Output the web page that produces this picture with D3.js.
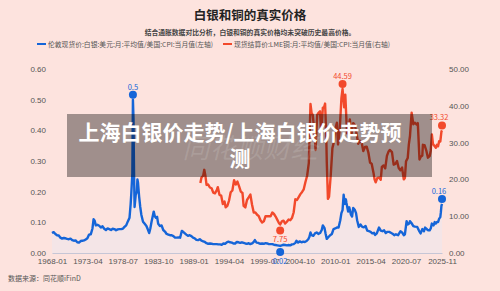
<!DOCTYPE html>
<html>
<head>
<meta charset="utf-8">
<script src="https://cdn.jsdelivr.net/npm/d3@7"></script>
<style>
  html, body { margin: 0; padding: 0; background: #fde3de; }
  svg { display: block; font-family: "Noto Sans CJK SC", "Noto Sans", sans-serif; }
</style>
</head>
<body>
<div id="chart"></div>
<script>
// 伦敦现货价:白银 / 美国CPI（左轴）
const silverSeries = [
  ["1968-01",0.065],["1968-04",0.068],["1968-07",0.062],["1968-10",0.058],
  ["1969-01",0.057],["1969-04",0.050],["1969-07",0.047],["1969-10",0.049],
  ["1970-01",0.048],["1970-04",0.046],["1970-07",0.045],["1970-10",0.047],
  ["1971-01",0.042],["1971-04",0.040],["1971-07",0.041],["1971-10",0.035],
  ["1972-01",0.034],["1972-04",0.039],["1972-07",0.040],["1972-10",0.041],
  ["1973-01",0.044],["1973-04",0.048],["1973-07",0.060],["1973-10",0.061],
  ["1974-01",0.080],["1974-03",0.110],["1974-05",0.105],["1974-07",0.090],["1974-10",0.092],
  ["1975-01",0.089],["1975-04",0.083],["1975-07",0.087],["1975-10",0.079],
  ["1976-01",0.075],["1976-04",0.080],["1976-07",0.078],["1976-10",0.075],
  ["1977-01",0.079],["1977-04",0.078],["1977-07",0.074],["1977-10",0.077],
  ["1978-01",0.078],["1978-04",0.078],["1978-07",0.079],["1978-10",0.085],
  ["1979-01",0.090],["1979-04",0.103],["1979-07",0.115],["1979-09",0.160],["1979-10",0.190],["1979-12",0.260],
  ["1980-01",0.500],["1980-02",0.440],["1980-03",0.260],["1980-04",0.150],["1980-06",0.190],
  ["1980-08",0.200],["1980-09",0.240],["1980-10",0.230],["1980-12",0.185],
  ["1981-02",0.150],["1981-04",0.125],["1981-07",0.102],["1981-10",0.095],
  ["1982-01",0.088],["1982-04",0.075],["1982-06",0.065],["1982-08",0.080],["1982-10",0.100],
  ["1983-02",0.135],["1983-04",0.120],["1983-06",0.115],["1983-08",0.118],["1983-10",0.095],
  ["1984-01",0.088],["1984-04",0.090],["1984-07",0.075],["1984-10",0.070],
  ["1985-01",0.062],["1985-04",0.060],["1985-07",0.058],["1985-10",0.058],
  ["1986-01",0.055],["1986-04",0.050],["1986-07",0.050],["1986-10",0.051],
  ["1987-01",0.050],["1987-04",0.072],["1987-06",0.070],["1987-09",0.065],["1987-12",0.060],
  ["1988-03",0.056],["1988-06",0.058],["1988-09",0.055],["1988-12",0.050],
  ["1989-03",0.048],["1989-06",0.043],["1989-09",0.042],["1989-12",0.045],
  ["1990-03",0.040],["1990-06",0.038],["1990-09",0.036],["1990-12",0.032],
  ["1991-03",0.030],["1991-06",0.031],["1991-09",0.030],["1991-12",0.029],
  ["1992-03",0.029],["1992-06",0.029],["1992-09",0.028],["1992-12",0.028],
  ["1993-03",0.027],["1993-06",0.031],["1993-09",0.030],["1993-12",0.035],
  ["1994-03",0.037],["1994-06",0.035],["1994-09",0.034],["1994-12",0.031],
  ["1995-03",0.031],["1995-06",0.036],["1995-09",0.035],["1995-12",0.033],
  ["1996-03",0.035],["1996-06",0.033],["1996-09",0.031],["1996-12",0.030],
  ["1997-03",0.032],["1997-06",0.029],["1997-09",0.031],["1997-12",0.036],
  ["1998-02",0.042],["1998-05",0.034],["1998-08",0.033],["1998-11",0.030],
  ["1999-03",0.031],["1999-06",0.030],["1999-09",0.032],["1999-12",0.031],
  ["2000-03",0.029],["2000-06",0.029],["2000-09",0.029],["2000-12",0.027],
  ["2001-03",0.026],["2001-06",0.025],["2001-09",0.024],["2001-11",0.023],
  ["2002-02",0.025],["2002-05",0.027],["2002-08",0.026],["2002-11",0.025],
  ["2003-02",0.026],["2003-05",0.025],["2003-08",0.028],["2003-11",0.029],
  ["2004-02",0.033],["2004-04",0.040],["2004-07",0.034],["2004-10",0.038],
  ["2005-01",0.035],["2005-04",0.037],["2005-07",0.036],["2005-10",0.039],
  ["2006-01",0.045],["2006-03",0.052],["2006-05",0.067],["2006-07",0.058],["2006-10",0.056],
  ["2007-01",0.064],["2007-04",0.067],["2007-07",0.062],["2007-10",0.065],
  ["2008-01",0.075],["2008-03",0.090],["2008-06",0.081],["2008-08",0.062],["2008-10",0.046],
  ["2009-01",0.052],["2009-04",0.058],["2009-07",0.062],["2009-10",0.078],
  ["2010-01",0.080],["2010-04",0.083],["2010-07",0.083],["2010-10",0.107],["2010-12",0.130],
  ["2011-02",0.140],["2011-04",0.190],["2011-06",0.160],["2011-08",0.175],["2011-09",0.163],["2011-12",0.135],
  ["2012-02",0.149],["2012-05",0.125],["2012-07",0.119],["2012-09",0.147],["2012-12",0.140],
  ["2013-02",0.130],["2013-04",0.107],["2013-07",0.085],["2013-10",0.093],
  ["2014-01",0.085],["2014-04",0.084],["2014-07",0.088],["2014-10",0.073],
  ["2015-01",0.071],["2015-04",0.069],["2015-07",0.064],["2015-10",0.066],["2015-12",0.059],
  ["2016-03",0.064],["2016-07",0.083],["2016-10",0.073],
  ["2017-01",0.071],["2017-04",0.074],["2017-07",0.065],["2017-10",0.069],
  ["2018-01",0.069],["2018-04",0.066],["2018-07",0.063],["2018-10",0.058],
  ["2019-01",0.061],["2019-05",0.058],["2019-09",0.071],["2019-12",0.067],
  ["2020-03",0.058],["2020-05",0.061],["2020-08",0.104],["2020-10",0.093],
  ["2021-01",0.097],["2021-02",0.104],["2021-05",0.097],["2021-08",0.088],["2021-11",0.086],
  ["2022-03",0.085],["2022-06",0.073],["2022-09",0.064],["2022-12",0.078],
  ["2023-03",0.071],["2023-05",0.083],["2023-08",0.078],["2023-10",0.074],
  ["2024-01",0.074],["2024-03",0.080],["2024-05",0.096],["2024-08",0.090],["2024-10",0.101],["2024-12",0.096],
  ["2025-02",0.101],["2025-04",0.101],["2025-06",0.112],["2025-08",0.117],["2025-09",0.133],["2025-10",0.154],["2025-11",0.160]
];

// 现货结算价:LME铜 / 美国CPI（右轴）
const copperSeries = [
  ["1990-01",19.0],["1990-03",20.5],["1990-06",21.0],["1990-08",22.6],["1990-10",21.0],["1990-12",18.5],
  ["1991-03",18.6],["1991-06",17.8],["1991-09",17.6],["1991-12",16.4],
  ["1992-03",16.2],["1992-06",17.0],["1992-08",17.9],["1992-11",15.8],
  ["1993-02",15.6],["1993-05",13.3],["1993-08",14.0],["1993-10",12.4],
  ["1994-01",12.8],["1994-04",14.2],["1994-07",16.5],["1994-10",17.0],
  ["1995-01",19.8],["1995-04",18.6],["1995-07",19.4],["1995-10",18.1],
  ["1996-01",16.7],["1996-04",16.3],["1996-06",12.8],["1996-09",12.4],["1996-12",14.4],
  ["1997-03",15.1],["1997-06",15.9],["1997-09",13.1],["1997-12",11.0],
  ["1998-03",11.0],["1998-06",10.4],["1998-09",10.0],["1998-12",8.9],
  ["1999-03",8.3],["1999-06",8.6],["1999-09",10.0],["1999-12",10.0],
  ["2000-03",10.0],["2000-06",10.0],["2000-09",11.0],["2000-12",10.6],
  ["2001-03",9.9],["2001-06",9.0],["2001-09",8.1],["2001-11",7.75],
  ["2002-02",8.6],["2002-05",8.8],["2002-08",8.0],["2002-11",8.5],
  ["2003-02",9.1],["2003-05",8.9],["2003-08",9.5],["2003-11",11.0],
  ["2004-02",14.6],["2004-05",14.4],["2004-08",15.2],["2004-11",16.0],
  ["2005-02",16.6],["2005-05",17.3],["2005-08",19.3],["2005-11",21.0],
  ["2006-02",24.5],["2006-05",40.5],["2006-07",38.0],["2006-09",37.5],["2006-12",33.0],
  ["2007-02",28.0],["2007-05",37.5],["2007-07",38.0],["2007-10",38.5],["2007-12",32.0],
  ["2008-03",39.5],["2008-05",39.5],["2008-07",40.6],["2008-09",32.0],["2008-10",24.5],["2008-12",14.7],
  ["2009-02",15.3],["2009-05",21.0],["2009-08",28.5],["2009-11",30.4],
  ["2010-01",33.7],["2010-04",35.4],["2010-06",29.5],["2010-09",33.5],["2010-12",42.0],
  ["2011-02",44.59],["2011-05",39.6],["2011-07",43.0],["2011-10",32.5],["2011-12",33.0],
  ["2012-03",36.3],["2012-06",32.3],["2012-09",35.3],["2012-12",34.7],
  ["2013-03",32.4],["2013-06",29.7],["2013-09",30.5],["2013-12",30.0],
  ["2014-03",27.7],["2014-06",28.8],["2014-09",28.9],["2014-12",27.3],
  ["2015-03",24.6],["2015-06",24.2],["2015-09",21.9],["2015-11",20.0],
  ["2016-01",19.2],["2016-04",20.4],["2016-07",20.5],["2016-10",19.9],["2016-12",23.4],
  ["2017-03",23.8],["2017-06",23.0],["2017-09",26.4],["2017-12",27.6],
  ["2018-02",28.0],["2018-06",27.4],["2018-09",24.0],["2018-12",24.2],
  ["2019-03",25.0],["2019-06",23.1],["2019-09",22.5],["2019-12",23.2],
  ["2020-03",20.0],["2020-05",20.4],["2020-07",24.9],["2020-10",25.8],["2020-12",29.5],
  ["2021-02",31.8],["2021-05",38.1],["2021-08",35.0],["2021-11",35.4],
  ["2022-02",34.9],["2022-04",35.3],["2022-07",25.4],["2022-09",26.1],["2022-12",26.5],
  ["2023-01",29.4],["2023-04",29.3],["2023-07",27.9],["2023-10",25.9],
  ["2024-01",26.3],["2024-03",27.8],["2024-05",32.2],["2024-07",29.6],["2024-09",29.2],["2024-12",28.6],
  ["2025-02",29.4],["2025-04",29.0],["2025-06",30.4],["2025-08",30.3],["2025-10",33.0],["2025-11",33.32]
];

const xTickLabels = ["1968-01","1973-04","1978-07","1983-10","1989-01","1994-04",
                     "1999-07","2004-10","2010-01","2015-04","2020-07","2025-11"];
const leftTicks = [0, 0.1, 0.2, 0.3, 0.4, 0.5, 0.6];
const rightTicks = [0, 10, 20, 30, 40, 50];

const chartTitle = "白银和铜的真实价格";
const chartSubtitle = "结合通胀数据对比分析，白银和铜的真实价格均未突破历史最高价格。";
const legendNames = ["伦敦现货价:白银:美元:月:平均值/美国:CPI:当月值(左轴)",
                     "现货结算价:LME铜:月:平均值/美国:CPI:当月值(右轴)"];
const sourceText = "数据来源：同花顺iFinD";
const bannerLines = ["上海白银价走势/上海白银价走势预", "测"];

const blue = "#1565d8", red = "#f2492b";
const W = 500, H = 291;
const margin = { top: 69, right: 58, bottom: 38, left: 52 };

const parse = d3.timeParse("%Y-%m");
const silver = silverSeries.map(([d, v]) => ({ date: parse(d), value: v }));
const copper = copperSeries.map(([d, v]) => ({ date: parse(d), value: v }));

const svg = d3.select("#chart").append("svg")
    .attr("width", W).attr("height", H);

svg.append("rect").attr("width", W).attr("height", H).attr("fill", "#fde3de");

const x = d3.scaleTime()
    .domain([parse(xTickLabels[0]), parse(xTickLabels[xTickLabels.length - 1])])
    .range([margin.left, W - margin.right]);
const yL = d3.scaleLinear().domain([0, 0.6]).range([H - margin.bottom, margin.top]);
const yR = d3.scaleLinear().domain([0, 50]).range([H - margin.bottom, margin.top]);

// 标题
svg.append("text").attr("x", W / 2).attr("y", 20).attr("text-anchor", "middle")
    .style("font-size", "12.5px").style("font-weight", "bold").attr("fill", "#222")
    .text(chartTitle);
svg.append("text").attr("x", W / 2).attr("y", 34.5).attr("text-anchor", "middle")
    .style("font-size", "6.8px").style("font-weight", "bold").attr("fill", "#444")
    .text(chartSubtitle);

// 图例
const legend = [{ name: legendNames[0], color: blue, x: 37 }, { name: legendNames[1], color: red, x: 223 }];
legend.forEach(l => {
    svg.append("rect").attr("x", l.x).attr("y", 43).attr("width", 9).attr("height", 2).attr("fill", l.color);
    svg.append("text").attr("x", l.x + 11).attr("y", 46.5)
        .style("font-size", "6.8px").attr("fill", "#555").text(l.name);
});

// 坐标轴
const xAxis = svg.append("g")
    .attr("transform", `translate(0,${H - margin.bottom})`)
    .call(d3.axisBottom(x).tickValues(xTickLabels.map(parse))
        .tickFormat(d3.timeFormat("%Y-%m")).tickSize(0).tickPadding(5));
xAxis.select(".domain").attr("stroke", "#c6c6d6").attr("stroke-width", 1.2);
xAxis.selectAll("text").style("font-size", "8px").attr("fill", "#555");

const leftAxis = svg.append("g").attr("transform", `translate(${margin.left},0)`)
    .call(d3.axisLeft(yL).tickValues(leftTicks).tickFormat(d3.format(".2f")).tickSize(0).tickPadding(6));
leftAxis.select(".domain").remove();
leftAxis.selectAll("text").style("font-size", "8px").attr("fill", "#555");

const rightAxis = svg.append("g").attr("transform", `translate(${W - margin.right},0)`)
    .call(d3.axisRight(yR).tickValues(rightTicks).tickFormat(d3.format(".2f")).tickSize(0).tickPadding(7));
rightAxis.select(".domain").remove();
rightAxis.selectAll("text").style("font-size", "8px").attr("fill", "#555");

// 白银面积 + 折线
svg.append("path").datum(silver)
    .attr("fill", "#e9e6f2").attr("opacity", 0.45)
    .attr("d", d3.area().x(d => x(d.date)).y0(yL(0)).y1(d => yL(d.value)));

svg.append("path").datum(copper)
    .attr("fill", "none").attr("stroke", red).attr("stroke-width", 2.4)
    .attr("stroke-linejoin", "round")
    .attr("d", d3.line().x(d => x(d.date)).y(d => yR(d.value)));

svg.append("path").datum(silver)
    .attr("fill", "none").attr("stroke", blue).attr("stroke-width", 2.4)
    .attr("stroke-linejoin", "round")
    .attr("d", d3.line().x(d => x(d.date)).y(d => yL(d.value)));

// 标记点：最大、最小、最新
function markPoints(data, y, color) {
    const maxD = data.reduce((a, b) => b.value > a.value ? b : a);
    const minD = data.reduce((a, b) => b.value < a.value ? b : a);
    const last = data[data.length - 1];
    const marks = [
        { d: maxD, off: -5, ly: -5, dx: 0 },
        { d: minD, off: 6, ly: 12, dx: 0 },
        { d: last, off: -5, ly: -5, dx: -3 }
    ];
    marks.forEach(m => {
        const cx = x(m.d.date), cy = y(m.d.value) + m.off;
        svg.append("circle").attr("cx", cx).attr("cy", cy).attr("r", 4).attr("fill", color);
        svg.append("text").attr("x", cx + m.dx).attr("y", cy + m.ly)
            .attr("text-anchor", "middle").style("font-size", "7.5px").attr("fill", color)
            .text(String(+m.d.value.toFixed(2)));
    });
}
markPoints(silver, yL, blue);
markPoints(copper, yR, red);

// 数据来源
svg.append("text").attr("x", 8).attr("y", 281)
    .style("font-size", "7px").attr("fill", "#555").text(sourceText);

// 叠加横幅
svg.append("rect").attr("x", 67).attr("y", 114).attr("width", 365).attr("height", 63)
    .attr("fill", "rgba(0,0,0,0.37)");
svg.append("text").attr("x", 250).attr("y", 158).attr("text-anchor", "middle")
    .style("font-size", "27px").style("font-style", "italic").attr("fill", "rgba(255,255,255,0.13)")
    .text("同花顺财经");
bannerLines.forEach((t, i) => {
    svg.append("text").attr("x", 240).attr("y", 139.5 + i * 26).attr("text-anchor", "middle")
        .style("font-size", "21px").style("font-weight", "bold").attr("fill", "#fff")
        .text(t);
});
</script>
</body>
</html>
